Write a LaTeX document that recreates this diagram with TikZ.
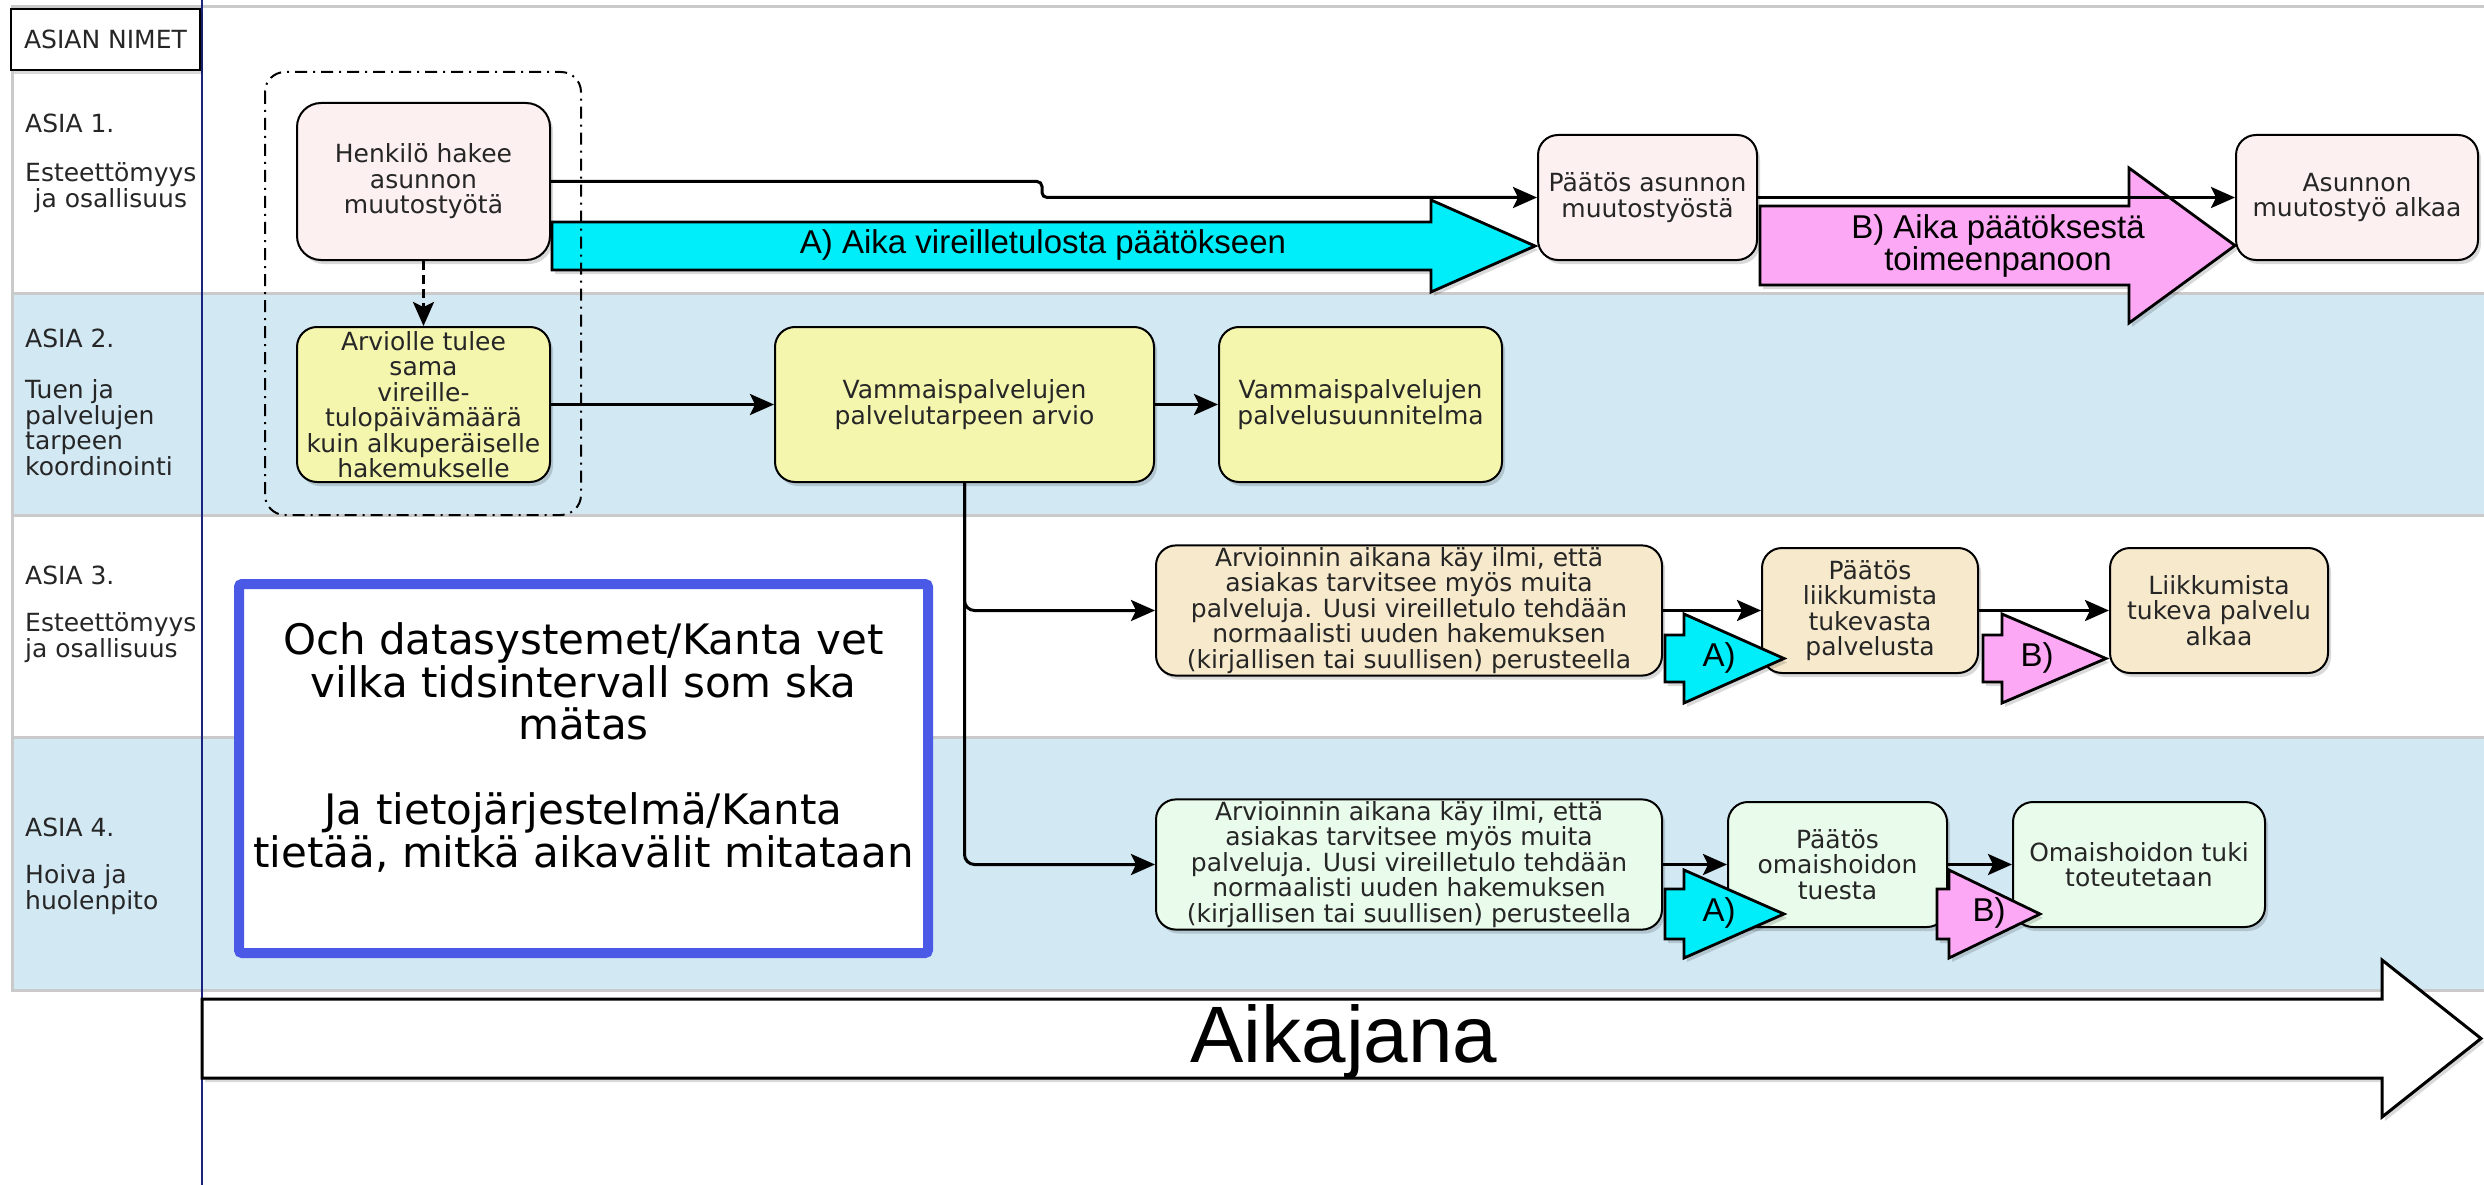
\documentclass[tikz,border=0pt]{standalone}
\usepackage{fontspec}
\setmainfont{DejaVu Sans}
\newfontfamily\arialf{Liberation Sans}
\usetikzlibrary{arrows.meta,shadows}
\definecolor{laneblue}{HTML}{D2E8F3}
\definecolor{lanegray}{HTML}{CACACA}
\definecolor{navyline}{HTML}{1A237E}
\definecolor{pinkbox}{HTML}{FCF1F0}
\definecolor{yelbox}{HTML}{F5F6AE}
\definecolor{beigebox}{HTML}{F7E9CB}
\definecolor{greenbox}{HTML}{E9FBEA}
\definecolor{cyanarr}{HTML}{00EEFA}
\definecolor{pinkarr}{HTML}{FCA8F5}
\definecolor{notebl}{HTML}{4B5AE6}
\definecolor{txt}{HTML}{262626}
\newcommand\bxf{\fontsize{25}{25.5}\selectfont}
\newcommand\arf{\arialf\fontsize{33}{32}\selectfont}
\newcommand\notef{\fontsize{42}{42.5}\selectfont}
\newcommand\blockarr[7]{%
  \draw[line width=2.8pt, line join=miter, fill=#1, softshadow]
    (#2,{#5-#6}) -- (#3,{#5-#6}) -- (#3,{#5-#7}) -- (#4,#5) -- (#3,{#5+#7}) -- (#3,{#5+#6}) -- (#2,{#5+#6}) -- cycle;}
\begin{document}
\begin{tikzpicture}[x=1pt,y=-1pt,
  softshadow/.style={drop shadow={shadow xshift=3pt,shadow yshift=-4pt,opacity=0.15,fill=black}},
  lane/.style={draw=lanegray,line width=3pt},
  box/.style={draw=black,line width=2pt,rounded corners=20pt,align=center,inner sep=2pt,font=\bxf,text=txt,softshadow},
  lanelabel/.style={font=\bxf,text=txt,anchor=west,inner sep=0pt},
  conn/.style={line width=3pt,-{Stealth[length=24pt,width=21pt,inset=5pt]}},
  arlabel/.style={font=\arf,text=black,align=center,inner sep=0pt}]
\useasboundingbox (0,0) rectangle (2484,1185);
\fill[white] (0,0) rectangle (2484,1185);
% lanes
\draw[lane,fill=white] (12,7) rectangle (2500,293);
\draw[lane,fill=laneblue] (12,293) rectangle (2500,515);
\draw[lane,fill=white] (12,515) rectangle (2500,737);
\draw[lane,fill=laneblue] (12,737) rectangle (2500,990);
\draw[navyline,line width=2pt] (202,0) -- (202,1185);
% header
\node[draw=black,line width=2pt,fill=white,minimum width=189pt,minimum height=61pt,font=\bxf,text=txt,inner sep=0pt,softshadow] (hdr) at (105.5,39.5) {ASIAN NIMET};
% lane labels
\node[lanelabel] (t1) at (25,123) {ASIA 1.};
\node[lanelabel,align=center] (d1) at (25,187.5) {Esteettömyys\\ja osallisuus};
\node[lanelabel] (t2) at (25,338) {ASIA 2.};
\node[lanelabel,align=left] (d2) at (25,427.5) {Tuen ja\\palvelujen\\tarpeen\\koordinointi};
\node[lanelabel] (t3) at (25,575) {ASIA 3.};
\node[lanelabel,align=left] (d3) at (25,637.5) {Esteettömyys\\ja osallisuus};
\node[lanelabel] (t4) at (25,827) {ASIA 4.};
\node[lanelabel,align=left] (d4) at (25,889.5) {Hoiva ja\\huolenpito};
% note box
\node[draw=notebl,line width=10pt,fill=white,rounded corners=3pt,minimum width=689pt,minimum height=369pt,softshadow] (note) at (583.5,768.5) {};
\node[font=\notef,text=black,align=center,inner sep=0pt] (notetxt) at (583.5,747.5)
  {Och datasystemet/Kanta vet\\vilka tidsintervall som ska\\mätas\\[42.5pt]Ja tietojärjestelmä/Kanta\\tietää, mitkä aikavälit mitataan};
% lane 1 boxes
\node[box,fill=pinkbox,rounded corners=24pt,minimum width=253pt,minimum height=157pt] (hen) at (423.5,181.5) {Henkilö hakee\\asunnon\\muutostyötä};
\node[box,fill=pinkbox,minimum width=219pt,minimum height=125pt] (pa1) at (1647.5,197.5) {Päätös asunnon\\muutostyöstä};
\node[box,fill=pinkbox,minimum width=242pt,minimum height=125pt] (as1) at (2357,197.5) {Asunnon\\muutostyö alkaa};
% lane 2 boxes
\node[box,fill=yelbox,minimum width=253pt,minimum height=155pt] (arv) at (423.5,404.5) {Arviolle tulee\\sama\\vireille-\\tulopäivämäärä\\kuin alkuperäiselle\\hakemukselle};
\node[box,fill=yelbox,minimum width=379pt,minimum height=155pt] (vp1) at (964.5,404.5) {Vammaispalvelujen\\palvelutarpeen arvio};
\node[box,fill=yelbox,minimum width=283pt,minimum height=155pt] (vp2) at (1360.5,404.5) {Vammaispalvelujen\\palvelusuunnitelma};
% lane 3 boxes
\node[box,fill=beigebox,minimum width=506pt,minimum height=125pt] (ar3) at (1409,610.5) {Arvioinnin aikana käy ilmi, että\\asiakas tarvitsee myös muita\\palveluja. Uusi vireilletulo tehdään\\normaalisti uuden hakemuksen\\(kirjallisen tai suullisen) perusteella};
\node[box,fill=beigebox,minimum width=216pt,minimum height=125pt] (pl3) at (1870,610.5) {Päätös\\liikkumista\\tukevasta\\palvelusta};
\node[box,fill=beigebox,minimum width=218pt,minimum height=125pt] (lk3) at (2219,610.5) {Liikkumista\\tukeva palvelu\\alkaa};
% lane 4 boxes
\node[box,fill=greenbox,minimum width=506pt,minimum height=125pt] (ar4) at (1409,864.5) {Arvioinnin aikana käy ilmi, että\\asiakas tarvitsee myös muita\\palveluja. Uusi vireilletulo tehdään\\normaalisti uuden hakemuksen\\(kirjallisen tai suullisen) perusteella};
\node[box,fill=greenbox,minimum width=219pt,minimum height=125pt] (po4) at (1837.5,864.5) {Päätös\\omaishoidon\\tuesta};
\node[box,fill=greenbox,minimum width=252pt,minimum height=125pt] (om4) at (2139,864.5) {Omaishoidon tuki\\toteutetaan};
% block arrows
\blockarr{cyanarr}{552}{1431}{1535}{246}{24}{46}
\node[arlabel] (lblA1) at (1043,245) {A) Aika vireilletulosta päätökseen};
\blockarr{pinkarr}{1760}{2129}{2235}{245.5}{39.5}{77.5}
\node[arlabel] (lblB1) at (1998,246) {B) Aika päätöksestä\\toimeenpanoon};
\blockarr{cyanarr}{1665}{1684}{1784}{658.5}{23.5}{44.5}
\node[arlabel] (lblA3) at (1719,658) {A)};
\blockarr{pinkarr}{1983}{2002}{2106}{658.5}{23.5}{44.5}
\node[arlabel] (lblB3) at (2037,658) {B)};
\blockarr{cyanarr}{1665}{1684}{1784}{914}{25}{44}
\node[arlabel] (lblA4) at (1719,913) {A)};
\blockarr{pinkarr}{1937}{1949}{2040}{914}{25}{44}
\node[arlabel] (lblB4) at (1989,913) {B)};
% time line arrow
\draw[line width=3pt,line join=miter,fill=white,softshadow]
  (202,999) -- (2382,999) -- (2382,960) -- (2481,1038.5) -- (2382,1117) -- (2382,1078) -- (202,1078) -- cycle;
\node[font=\arialf\fontsize{80}{80}\selectfont,anchor=base,inner sep=0pt] (aika) at (1344,1062) {Aikajana};
% connectors
\coordinate (s1) at (1042,181.5);
\coordinate (s2) at (1042,197.5);
\draw[conn,rounded corners=5pt] (hen.east) -- (s1) -- (s2) -- (pa1.west);
\draw[conn] (pa1.east) -- (as1.west);
\draw[conn,dash pattern=on 9pt off 5pt] (hen.south) -- (arv.north);
\draw[conn] (arv.east) -- (vp1.west);
\draw[conn] (vp1.east) -- (vp2.west);
\draw[conn,rounded corners=10pt] (vp1.south) |- (ar3.west);
\draw[conn,rounded corners=10pt] (vp1.south) |- (ar4.west);
\draw[conn] (ar3.east) -- (pl3.west);
\draw[conn] (pl3.east) -- (lk3.west);
\draw[conn] (ar4.east) -- (po4.west);
\draw[conn] (po4.east) -- (om4.west);
% group box
\draw[line width=2pt,rounded corners=20pt,dash pattern=on 12pt off 6pt on 2pt off 6pt] (265,72) rectangle (581,515);
\end{tikzpicture}
\end{document}
